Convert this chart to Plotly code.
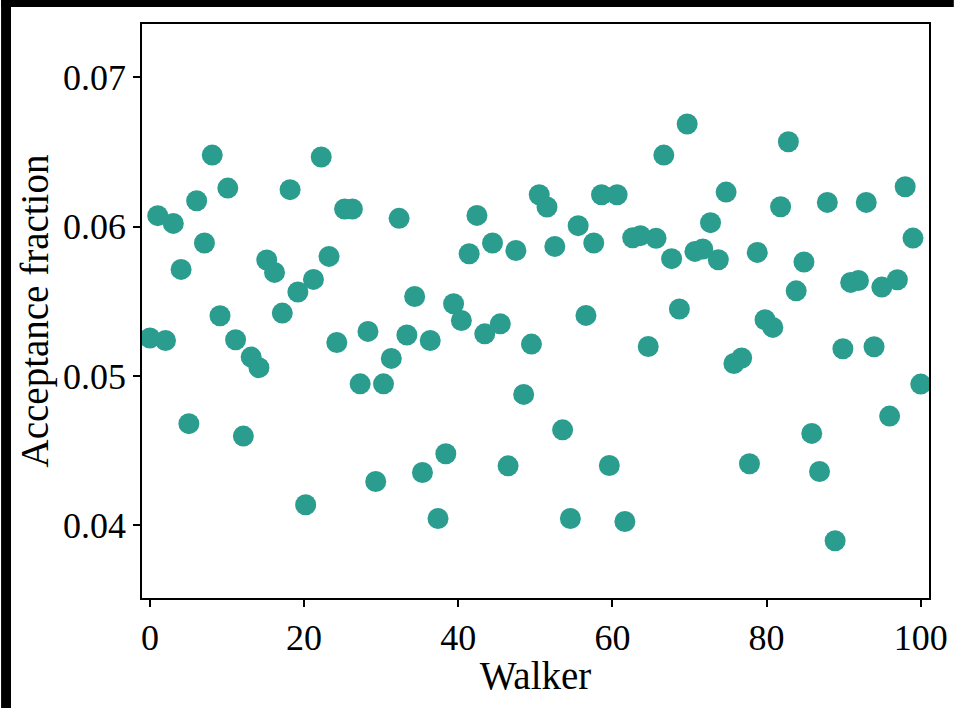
import numpy as np
import plotly.graph_objects as go

# Acceptance fraction per walker
acceptance = [
    0.05255, 0.06074, 0.05238, 0.06022, 0.05714, 0.04681, 0.06174, 0.05891, 0.06480, 0.05404,
    0.06259, 0.05243, 0.04598, 0.05127, 0.05056, 0.05777, 0.05694, 0.05422, 0.06248, 0.05563,
    0.04138, 0.05647, 0.06467, 0.05801, 0.05225, 0.06119, 0.06119, 0.04948, 0.05299, 0.04294,
    0.04948, 0.05118, 0.06056, 0.05275, 0.05533, 0.04354, 0.05238, 0.04046, 0.04480, 0.05484,
    0.05372, 0.05819, 0.06076, 0.05283, 0.05891, 0.05350, 0.04399, 0.05841, 0.04877, 0.05214,
    0.06214, 0.06132, 0.05868, 0.04640, 0.04046, 0.06007, 0.05406, 0.05891, 0.06214, 0.04401,
    0.06214, 0.04026, 0.05926, 0.05940, 0.05198, 0.05923, 0.06480, 0.05786, 0.05449, 0.06688,
    0.05835, 0.05851, 0.06027, 0.05779, 0.06232, 0.05084, 0.05121, 0.04413, 0.05828, 0.05377,
    0.05326, 0.06134, 0.06569, 0.05571, 0.05764, 0.04616, 0.04361, 0.06163, 0.03897, 0.05183,
    0.05627, 0.05640, 0.06163, 0.05196, 0.05596, 0.04732, 0.05645, 0.06268, 0.05924, 0.04946,
]
# walker positions: evenly spaced from 0 to 100
walker = np.linspace(0, 100, len(acceptance))

x_ticks = [0, 20, 40, 60, 80, 100]
y_ticks = [0.04, 0.05, 0.06, 0.07]
y_tick_labels = ["0.04", "0.05", "0.06", "0.07"]

FONT = "Liberation Serif"
W, H = 960, 708
ML, MR, MT, MB = 142, 25, 24, 110
pw, ph = W - ML - MR, H - MT - MB

def px_to_paper_x(p):
    return (p - ML) / pw

def px_to_paper_y(p):
    return (H - MB - p) / ph

fig = go.Figure()
fig.add_trace(go.Scatter(
    x=walker, y=acceptance, mode="markers",
    marker=dict(size=21, color="#2a9d8f", line=dict(width=0)),
    showlegend=False,
))

axis_common = dict(
    showline=True, linecolor="black", linewidth=1.6, mirror=True,
    ticks="outside", ticklen=7, tickwidth=1.5, tickcolor="black",
    showgrid=False, zeroline=False,
    tickfont=dict(family=FONT, size=36, color="black"),
)

fig.update_layout(
    width=W, height=H, autosize=False,
    margin=dict(l=ML, r=MR, t=MT, b=MB),
    paper_bgcolor="white", plot_bgcolor="white",
    font=dict(family=FONT, color="black"),
    xaxis=dict(
        range=[-1.03, 101.07], tickvals=x_ticks,
        title=dict(text="Walker", font=dict(family=FONT, size=39), standoff=5),
        **axis_common,
    ),
    yaxis=dict(
        range=[0.035137, 0.073577], tickvals=y_ticks, ticktext=y_tick_labels,
        title=dict(text="Acceptance fraction", font=dict(family=FONT, size=39), standoff=2),
        **axis_common,
    ),
    shapes=[
        # dark strips along the top and left edges, as in the reference image
        dict(type="rect", xref="paper", yref="paper",
             x0=px_to_paper_x(0), x1=px_to_paper_x(W),
             y0=px_to_paper_y(7), y1=px_to_paper_y(0),
             fillcolor="black", line=dict(width=0), layer="below"),
        dict(type="rect", xref="paper", yref="paper",
             x0=px_to_paper_x(0), x1=px_to_paper_x(10),
             y0=px_to_paper_y(H), y1=px_to_paper_y(0),
             fillcolor="black", line=dict(width=0), layer="below"),
    ],
)

fig.write_html(
    "out.html",
    config={"displayModeBar": False, "responsive": False},
)
